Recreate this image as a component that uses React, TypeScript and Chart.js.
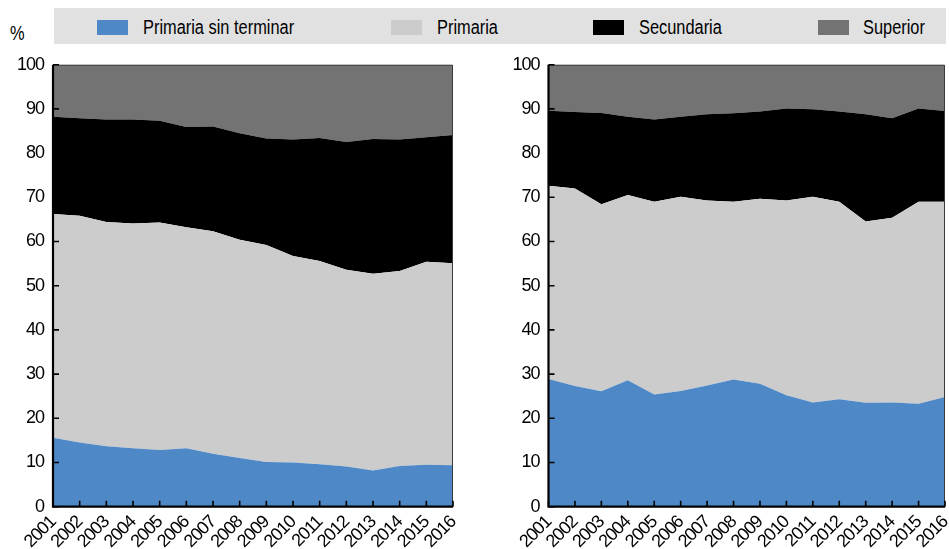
import React, { useEffect, useRef } from "react";
import { Chart, registerables } from "chart.js";

Chart.register(...registerables);

const years = ["2001","2002","2003","2004","2005","2006","2007","2008","2009","2010","2011","2012","2013","2014","2015","2016"];
const seriesNames = ["Primaria sin terminar", "Primaria", "Secundaria", "Superior"];
const seriesColors = ["#4e88c7", "#cccccc", "#000000", "#737373"];
const yTicks = [0, 10, 20, 30, 40, 50, 60, 70, 80, 90, 100];

// Left panel (shares, %)
const leftSinTerminar = [15.6,14.5,13.7,13.2,12.8,13.2,12.0,11.0,10.1,10.0,9.6,9.1,8.2,9.2,9.5,9.4];
const leftPrimaria = [50.6,51.3,50.7,50.9,51.5,50.0,50.3,49.4,49.1,46.7,46.0,44.5,44.5,44.1,45.9,45.7];
const leftSecundaria = [22.0,22.1,23.2,23.5,23.0,22.7,23.7,24.1,24.1,26.4,27.8,28.9,30.5,29.8,28.2,29.0];
const leftSuperior = [11.8,12.1,12.4,12.4,12.7,14.1,14.0,15.5,16.7,16.9,16.6,17.5,16.8,16.9,16.4,15.9];

// Right panel (shares, %)
const rightSinTerminar = [28.9,27.3,26.1,28.6,25.4,26.2,27.4,28.8,27.8,25.2,23.6,24.3,23.5,23.6,23.3,24.8];
const rightPrimaria = [43.7,44.7,42.3,41.9,43.6,43.9,41.9,40.2,41.9,44.1,46.5,44.7,41.0,41.8,45.7,44.2];
const rightSecundaria = [17.0,17.3,20.7,17.7,18.6,18.1,19.5,20.0,19.7,20.8,19.8,20.4,24.3,22.5,21.1,20.5];
const rightSuperior = [10.4,10.7,10.9,11.8,12.4,11.8,11.2,11.0,10.6,9.9,10.1,10.6,11.2,12.1,9.9,10.5];

const FONT = "'Liberation Sans Narrow', 'Arial Narrow', 'Liberation Sans', Arial, sans-serif";

const narrowText = {
  id: "narrowText",
  beforeDraw(chart: any) { chart.ctx.letterSpacing = "-1px"; },
  afterDraw(chart: any) { chart.ctx.letterSpacing = "0px"; },
};

const framePlugin = {
  id: "frame",
  afterDatasetsDraw(chart: any) {
    const { ctx, chartArea: a, scales } = chart;
    ctx.save();
    ctx.strokeStyle = "#3a3a3a";
    ctx.lineWidth = 1;
    ctx.beginPath();
    ctx.moveTo(a.left, a.top + 0.5);
    ctx.lineTo(a.right - 0.5, a.top + 0.5);
    ctx.lineTo(a.right - 0.5, a.bottom);
    ctx.stroke();
    ctx.strokeStyle = "#000";
    ctx.lineWidth = 2.2;
    ctx.beginPath();
    ctx.moveTo(a.left, a.top);
    ctx.lineTo(a.left, a.bottom);
    ctx.lineTo(a.right, a.bottom);
    ctx.stroke();
    ctx.lineWidth = 1.6;
    ctx.beginPath();
    for (const v of yTicks) {
      const y = scales.y.getPixelForValue(v);
      ctx.moveTo(a.left, y);
      ctx.lineTo(a.left + 6, y);
    }
    for (let i = 0; i < years.length; i++) {
      const x = scales.x.getPixelForTick(i);
      ctx.moveTo(x, a.bottom);
      ctx.lineTo(x, a.bottom - 6);
    }
    ctx.stroke();
    ctx.restore();
  },
};

function noAutoPadding(axis: any) {
  axis.paddingTop = 0;
  axis.paddingBottom = 0;
  axis.paddingLeft = 0;
  axis.paddingRight = 0;
}

function makeConfig(data: number[][], padLeft: number, padRight: number): any {
  return {
    type: "line",
    data: {
      labels: years,
      datasets: data.map((d, i) => ({
        label: seriesNames[i],
        data: d,
        backgroundColor: seriesColors[i],
        borderColor: seriesColors[i],
        borderWidth: 0,
        pointRadius: 0,
        fill: i === 0 ? "origin" : "-1",
        tension: 0,
      })),
    },
    options: {
      responsive: false,
      animation: false,
      layout: { padding: { left: padLeft, right: padRight, top: 14.7, bottom: 0 } },
      plugins: { legend: { display: false }, tooltip: { enabled: false } },
      scales: {
        x: {
          offset: false,
          grid: { display: false, drawTicks: false },
          border: { display: false },
          ticks: {
            autoSkip: false,
            maxRotation: 45,
            minRotation: 45,
            padding: 5,
            color: "#000",
            font: { family: FONT, size: 18 },
          },
          afterFit: (axis: any) => { axis.height = 42.3; noAutoPadding(axis); },
        },
        y: {
          stacked: true,
          min: 0,
          max: 100,
          grid: { display: false, drawTicks: false },
          border: { display: false },
          ticks: {
            stepSize: 10,
            padding: 9,
            color: "#000",
            font: { family: FONT, size: 18 },
          },
          afterFit: (axis: any) => { axis.width = 53; noAutoPadding(axis); },
        },
      },
    },
    plugins: [framePlugin, narrowText],
  };
}

function Panel(props: { data: number[][]; left: number; width: number; padLeft: number; padRight: number }) {
  const ref = useRef<HTMLCanvasElement>(null);
  useEffect(() => {
    const c = new Chart(ref.current as HTMLCanvasElement, makeConfig(props.data, props.padLeft, props.padRight));
    return () => c.destroy();
  }, []);
  return (
    <canvas
      ref={ref}
      width={props.width}
      height={499}
      style={{ position: "absolute", left: props.left, top: 50, width: props.width, height: 499 }}
    />
  );
}

const legendSwatchX = [97, 391, 593, 818];
const legendTextX = [143, 437, 639, 863];

export default function App() {
  const textStyle: React.CSSProperties = {
    position: "absolute",
    fontSize: 19.5,
    lineHeight: "22px",
    color: "#000",
    whiteSpace: "nowrap",
    transform: "scaleX(0.84)",
    transformOrigin: "0 0",
  };
  return (
    <div style={{ position: "absolute", left: 0, top: 0, width: 949, height: 549, background: "#fff", overflow: "hidden", fontFamily: FONT }}>
      <div style={{ position: "absolute", left: 54, top: 8, width: 892, height: 36, background: "#e1e1e1" }} />
      {seriesNames.map((n, i) => (
        <React.Fragment key={n}>
          <div style={{ position: "absolute", left: legendSwatchX[i], top: 20, width: 31, height: 15, background: seriesColors[i] }} />
          <div style={{ ...textStyle, left: legendTextX[i], top: 16 }}>{n}</div>
        </React.Fragment>
      ))}
      <div style={{ ...textStyle, left: 10, top: 22 }}>%</div>
      <Panel data={[leftSinTerminar, leftPrimaria, leftSecundaria, leftSuperior]} left={0} width={470} padLeft={0} padRight={17} />
      <Panel data={[rightSinTerminar, rightPrimaria, rightSecundaria, rightSuperior]} left={475} width={474} padLeft={20.5} padRight={4} />
    </div>
  );
}
